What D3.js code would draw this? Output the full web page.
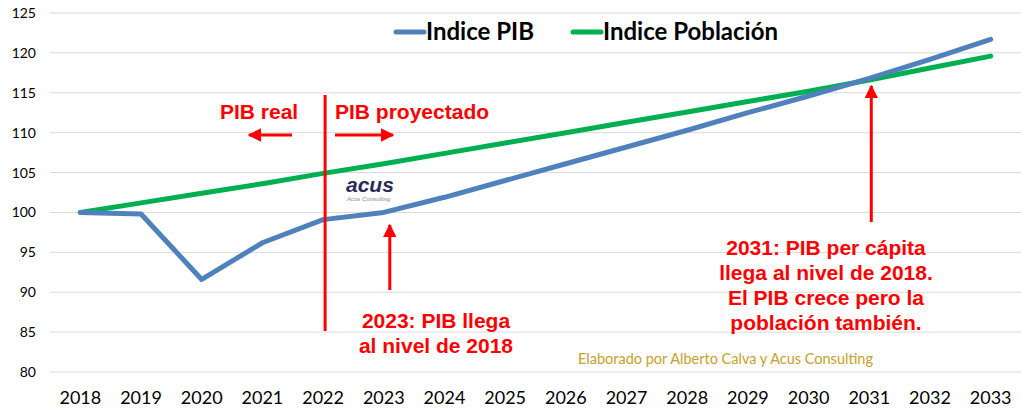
<!DOCTYPE html>
<html>
<head>
<meta charset="utf-8">
<script src="https://cdn.jsdelivr.net/npm/d3@7"></script>
<style>
  body { margin: 0; background: #fff; }
  svg { display: block; }
</style>
</head>
<body>
<svg id="chart"></svg>
<script>
var years = ["2018","2019","2020","2021","2022","2023","2024","2025","2026","2027","2028","2029","2030","2031","2032","2033"]
var pib = [100, 99.8, 91.6, 96.2, 99.1, 100.0, 101.9, 104.0, 106.1, 108.2, 110.3, 112.5, 114.6, 116.8, 119.2, 121.7]
var poblacion = [100, 101.2, 102.4, 103.6, 104.9, 106.1, 107.4, 108.7, 110.0, 111.3, 112.6, 113.9, 115.2, 116.6, 118.1, 119.6]
var yTicks = [80, 85, 90, 95, 100, 105, 110, 115, 120, 125]

var width = 1021, height = 412

var svg = d3.select("#chart")
    .attr("width", width)
    .attr("height", height)

var x = d3.scaleBand()
    .domain(years)
    .range([50, 1021])

var y = d3.scaleLinear()
    .domain([80, 125])
    .range([372, 13])

var cx = function(d){ return x(d) + x.bandwidth() / 2 }

// gridlines
svg.append("g")
    .selectAll("line")
    .data(yTicks)
    .enter()
    .append("line")
    .attr("x1", 50)
    .attr("x2", 1021)
    .attr("y1", function(d){ return y(d) })
    .attr("y2", function(d){ return y(d) })
    .attr("stroke", "#d9d9d9")
    .attr("stroke-width", 1)

// y labels
svg.append("g")
    .selectAll("text")
    .data(yTicks)
    .enter()
    .append("text")
    .attr("x", 36)
    .attr("y", function(d){ return y(d) + 5 })
    .attr("text-anchor", "end")
    .attr("font-family", "Lato, 'Open Sans', sans-serif")
    .attr("font-size", "14px")
    .attr("fill", "#000")
    .text(function(d){ return d })

// x labels
svg.append("g")
    .selectAll("text")
    .data(years)
    .enter()
    .append("text")
    .attr("x", cx)
    .attr("y", 404)
    .attr("text-anchor", "middle")
    .attr("font-family", "Lato, 'Open Sans', sans-serif")
    .attr("font-size", "18px")
    .attr("fill", "#000")
    .text(function(d){ return d })

// credit
svg.append("text")
    .attr("x", 578)
    .attr("y", 364)
    .attr("font-family", "Lato, 'Open Sans', sans-serif")
    .attr("font-size", "14.5px")
    .attr("fill", "#c8a02a")
    .text("Elaborado por Alberto Calva y Acus Consulting")

// logo
svg.append("text")
    .attr("x", 346)
    .attr("y", 192)
    .attr("font-family", "'Liberation Sans', Arial, sans-serif")
    .attr("font-weight", "bold")
    .attr("font-style", "italic")
    .attr("font-size", "21px")
    .attr("fill", "#2a2a55")
    .text("acus")
svg.append("text")
    .attr("x", 347)
    .attr("y", 201)
    .attr("font-family", "'Liberation Sans', Arial, sans-serif")
    .attr("font-style", "italic")
    .attr("font-size", "6px")
    .attr("fill", "#888")
    .text("Acus Consulting")

var line = d3.line()
    .x(function(d){ return cx(d[0]) })
    .y(function(d){ return y(d[1]) })

svg.append("path")
    .datum(years.map(function(d, i){ return [d, poblacion[i]] }))
    .attr("d", line)
    .attr("fill", "none")
    .attr("stroke", "#00b050")
    .attr("stroke-width", 5)
    .attr("stroke-linecap", "round")
    .attr("stroke-linejoin", "round")

svg.append("path")
    .datum(years.map(function(d, i){ return [d, pib[i]] }))
    .attr("d", line)
    .attr("fill", "none")
    .attr("stroke", "#4f81bd")
    .attr("stroke-width", 5)
    .attr("stroke-linecap", "round")
    .attr("stroke-linejoin", "round")

// legend
var legend = [
    {name: "Indice PIB", color: "#4f81bd", x: 396},
    {name: "Indice Población", color: "#00b050", x: 573}
]
var lg = svg.append("g")
    .selectAll("g")
    .data(legend)
    .enter()
    .append("g")
lg.append("line")
    .attr("x1", function(d){ return d.x })
    .attr("x2", function(d){ return d.x + 28 })
    .attr("y1", 32)
    .attr("y2", 32)
    .attr("stroke", function(d){ return d.color })
    .attr("stroke-width", 5)
    .attr("stroke-linecap", "round")
lg.append("text")
    .attr("x", function(d){ return d.x + 30 })
    .attr("y", 40)
    .attr("font-family", "Lato, 'Open Sans', sans-serif")
    .attr("font-weight", "bold")
    .attr("font-size", "24px")
    .attr("fill", "#000")
    .text(function(d){ return d.name })

// annotations
svg.append("defs").append("marker")
    .attr("id", "head")
    .attr("viewBox", "0 0 10 10")
    .attr("refX", 9)
    .attr("refY", 5)
    .attr("markerWidth", 4.5)
    .attr("markerHeight", 4.5)
    .attr("orient", "auto")
    .append("path")
    .attr("d", "M0,0 L10,5 L0,10 Z")
    .attr("fill", "#ff0000")

var red = "#ff0000"
var xSplit = (cx("2022") + 2)

svg.append("line")
    .attr("x1", xSplit).attr("x2", xSplit)
    .attr("y1", 95).attr("y2", 331)
    .attr("stroke", red)
    .attr("stroke-width", 3)

var arrows = [
    [292, 135, 249, 135],
    [335, 135, 393, 135],
    [cx("2023") + 6, 290, cx("2023") + 6, 225],
    [cx("2031") + 2, 222, cx("2031") + 2, 86]
]
svg.append("g")
    .selectAll("line")
    .data(arrows)
    .enter()
    .append("line")
    .attr("x1", function(d){ return d[0] })
    .attr("y1", function(d){ return d[1] })
    .attr("x2", function(d){ return d[2] })
    .attr("y2", function(d){ return d[3] })
    .attr("stroke", red)
    .attr("stroke-width", 3)
    .attr("marker-end", "url(#head)")

function redText(lines, xc, y0, anchor){
    var t = svg.append("text")
        .attr("font-family", "'Liberation Sans', Arial, sans-serif")
        .attr("font-weight", "bold")
        .attr("font-size", "21px")
        .attr("fill", red)
        .attr("text-anchor", anchor)
    lines.forEach(function(s, i){
        t.append("tspan").attr("x", xc).attr("y", y0 + i * 25).text(s)
    })
}
redText(["PIB real"], 220, 119, "start")
redText(["PIB proyectado"], 335, 119, "start")
redText(["2023: PIB llega", "al nivel de 2018"], 436, 328, "middle")
redText(["2031: PIB per cápita", "llega al nivel de 2018.", "El PIB crece pero la", "población también."], 826, 255, "middle")
</script>
</body>
</html>
